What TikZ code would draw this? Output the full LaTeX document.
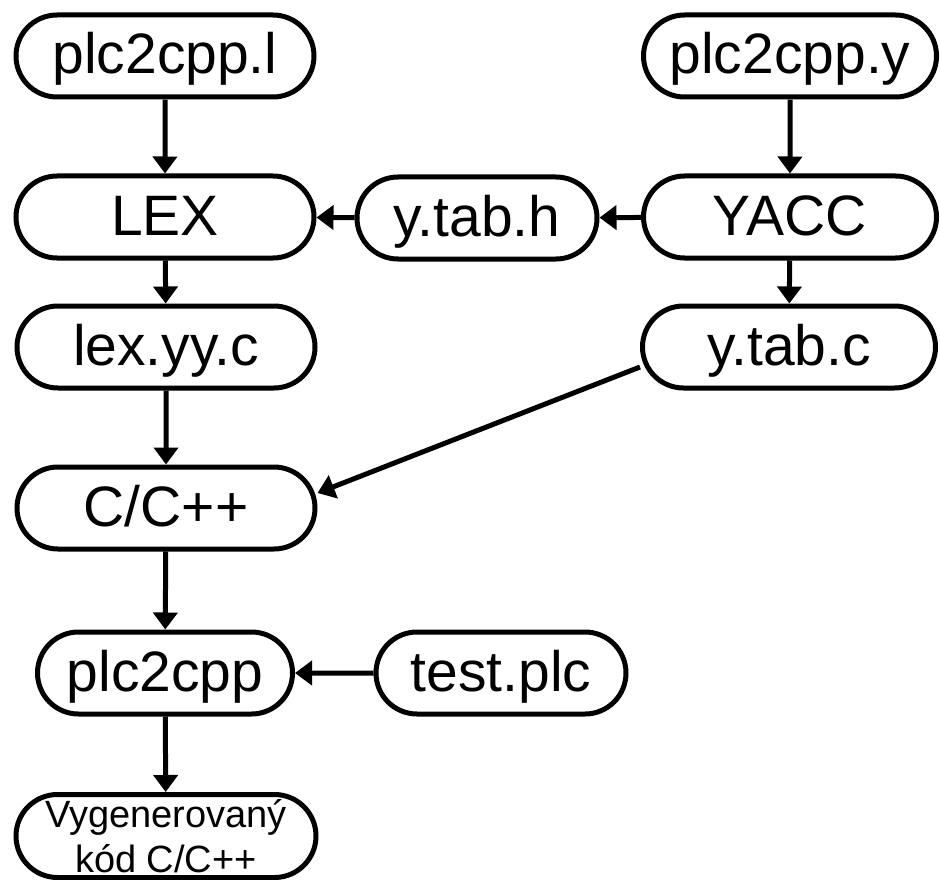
\documentclass[tikz,border=0pt]{standalone}
\usepackage{fontspec}
\setmainfont{Liberation Sans}
\usetikzlibrary{arrows.meta}
\usetikzlibrary{shapes.misc}

\begin{document}
\begin{tikzpicture}[
    x=1pt, y=-1pt,
    % styles
    pill/.style={rounded rectangle, draw, line width=5pt, inner sep=0pt,
      minimum width=298pt, minimum height=82pt,
      font=\fontsize{57}{60}\selectfont, text height=46pt, text depth=10pt},
    flow/.style={line width=5pt, -{Triangle[length=17pt, width=24pt]}}]

    \useasboundingbox (0, 0) rectangle (940, 880);

    % left column
    \node [pill] (pl) at (165, 56) {plc2cpp.l};
    \node [pill] (lex) at (165, 217) {LEX};
    \node [pill] (lexyy) at (166, 347) {lex.yy.c};
    \node [pill] (cpp) at (166, 508) {C/C++};
    \node [pill, minimum width=255pt] (plccpp) at (165, 673) {plc2cpp};
    \node [pill, minimum width=300pt, minimum height=83pt,
      font=\fontsize{38}{45}\selectfont, text height=, text depth=,
      align=center] (vyg) at (166, 836) {Vygenerovaný\\kód C/C++};

    % right column
    \node [pill, minimum width=293pt] (py) at (790, 56) {plc2cpp.y};
    \node [pill, minimum width=293pt] (yacc) at (790, 217) {YACC};
    \node [pill, minimum width=293pt] (ytabc) at (789, 347) {y.tab.c};

    % middle
    \node [pill, minimum width=240pt] (ytabh) at (477, 218) {y.tab.h};
    \node [pill, minimum width=250pt] (test) at (501, 673) {test.plc};

    % connectors
    \foreach \a/\b in {pl/lex, py/yacc, yacc/ytabh, ytabh/lex, lex/lexyy,
      yacc/ytabc, lexyy/cpp, cpp/plccpp, test/plccpp, plccpp/vyg} {
      \draw [flow] (\a) -- (\b);
    }
    \draw [flow] ([yshift=-20pt]ytabc.west) -- ([yshift=15pt]cpp.east);

  \end{tikzpicture}
\end{document}
